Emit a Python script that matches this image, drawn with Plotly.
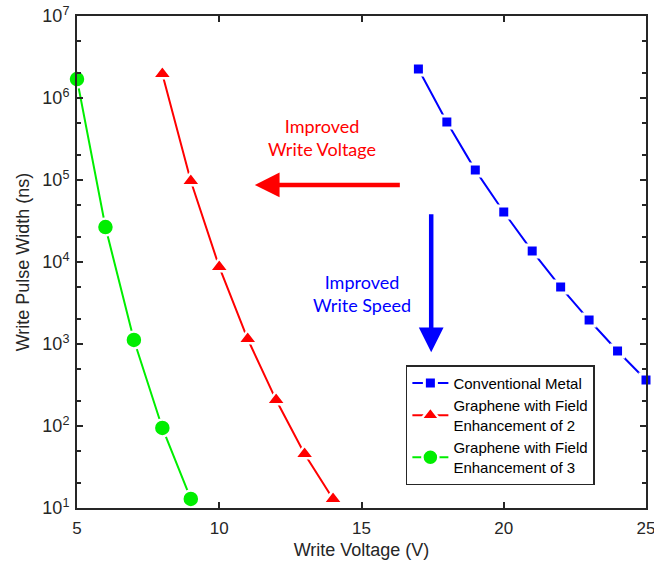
import plotly.graph_objects as go

voltage_metal = [17, 18, 19, 20, 21, 22, 23, 24, 25]
pulse_metal = [2.26e6, 5.1e5, 1.32e5, 4.07e4, 1.36e4, 4.95e3, 1.96e3, 822, 364]

voltage_g2 = [8, 9, 10, 11, 12, 13, 14]
pulse_g2 = [1.96e6, 9.7e4, 8.7e3, 1150, 207, 45.6, 12.9]

voltage_g3 = [5, 6, 7, 8, 9]
pulse_g3 = [1.7e6, 2.67e4, 1.12e3, 94.6, 12.9]

series_names = ["Conventional Metal",
                "Graphene with Field<br>Enhancement of 2",
                "Graphene with Field<br>Enhancement of 3"]

ytick_vals = [1e1, 1e2, 1e3, 1e4, 1e5, 1e6, 1e7]
ytick_text = ["10<sup>1</sup>", "10<sup>2</sup>", "10<sup>3</sup>", "10<sup>4</sup>",
              "10<sup>5</sup>", "10<sup>6</sup>", "10<sup>7</sup>"]
xtick_vals = [5, 10, 15, 20, 25]

fig = go.Figure()
fig.add_trace(go.Scatter(x=voltage_metal, y=pulse_metal, name=series_names[0],
                         mode="lines+markers", cliponaxis=False,
                         line=dict(color="#0000ff", width=2),
                         marker=dict(symbol="square", size=12, color="#0000ff",
                                     line=dict(width=3, color="white"))))
fig.add_trace(go.Scatter(x=voltage_g2, y=pulse_g2, name=series_names[1],
                         mode="lines+markers", cliponaxis=False,
                         line=dict(color="#ff0000", width=2),
                         marker=dict(symbol="triangle-up", size=17, color="#ff0000",
                                     line=dict(width=2.5, color="white"))))
fig.add_trace(go.Scatter(x=voltage_g3, y=pulse_g3, name=series_names[2],
                         mode="lines+markers", cliponaxis=False,
                         line=dict(color="#00ee00", width=2),
                         marker=dict(symbol="circle", size=17, color="#00ee00",
                                     line=dict(width=2.5, color="white"))))

ann_font = "Lato, Open Sans, sans-serif"
# red arrow: head on the left
fig.add_annotation(x=11.25, y=4.94, xref="x", yref="y", ax=16.4, ay=4.94, axref="x", ayref="y",
                   showarrow=True, arrowhead=2, arrowsize=1.1, arrowwidth=4.5,
                   arrowcolor="#ff0000", text="")
# blue arrow: head at bottom
fig.add_annotation(x=17.45, y=2.9, xref="x", yref="y", ax=17.45, ay=4.6, axref="x", ayref="y",
                   showarrow=True, arrowhead=2, arrowsize=1.1, arrowwidth=4.5,
                   arrowcolor="#0000ff", text="")
fig.add_annotation(x=13.6, y=5.52, xref="x", yref="y", showarrow=False,
                   text="Improved<br>Write Voltage",
                   font=dict(family=ann_font, size=18, color="#ff0000"))
fig.add_annotation(x=15.02, y=3.62, xref="x", yref="y", showarrow=False,
                   text="Improved<br>Write Speed",
                   font=dict(family=ann_font, size=18, color="#0000ff"))

axis_common = dict(showline=True, linecolor="#262626", linewidth=2, mirror="ticks",
                   ticks="inside", tickcolor="#262626", tickwidth=2, ticklen=6,
                   showgrid=False, zeroline=False, automargin=False,
                   ticklabeloverflow="allow")

fig.update_layout(
    width=654, height=569,
    margin=dict(l=77, r=8, t=16, b=61),
    plot_bgcolor="white", paper_bgcolor="white",
    font=dict(family="Liberation Sans, Arial, sans-serif", color="#262626"),
    xaxis=dict(range=[5, 25], tickvals=xtick_vals, ticklabelstandoff=4,
               tickfont=dict(family="Liberation Sans, Arial, sans-serif", size=17, color="#262626"),
               title=dict(text="Write Voltage (V)", font=dict(size=18), standoff=6),
               **axis_common),
    yaxis=dict(type="log", range=[1, 7], tickvals=ytick_vals, ticktext=ytick_text,
               ticklabelstandoff=2,
               tickfont=dict(family="Liberation Sans, Arial, sans-serif", size=18, color="#262626"),
               title=dict(text="Write Pulse Width (ns)", font=dict(size=18), standoff=8),
               minor=dict(ticks="inside", ticklen=4, tickcolor="#262626", tickwidth=1.5,
                          showgrid=False),
               **axis_common),
    legend=dict(x=0.578, y=0.29, xanchor="left", yanchor="top",
                bgcolor="white", bordercolor="#262626", borderwidth=1.5,
                font=dict(size=15, color="#000000"), tracegroupgap=0,
                itemwidth=36),
    showlegend=True,
)

# remove the browser's default 8px body margin so the figure fills the window exactly
fig.write_html("out.html", config={"displayModeBar": False},
               post_script="document.body.style.margin='0px';")
